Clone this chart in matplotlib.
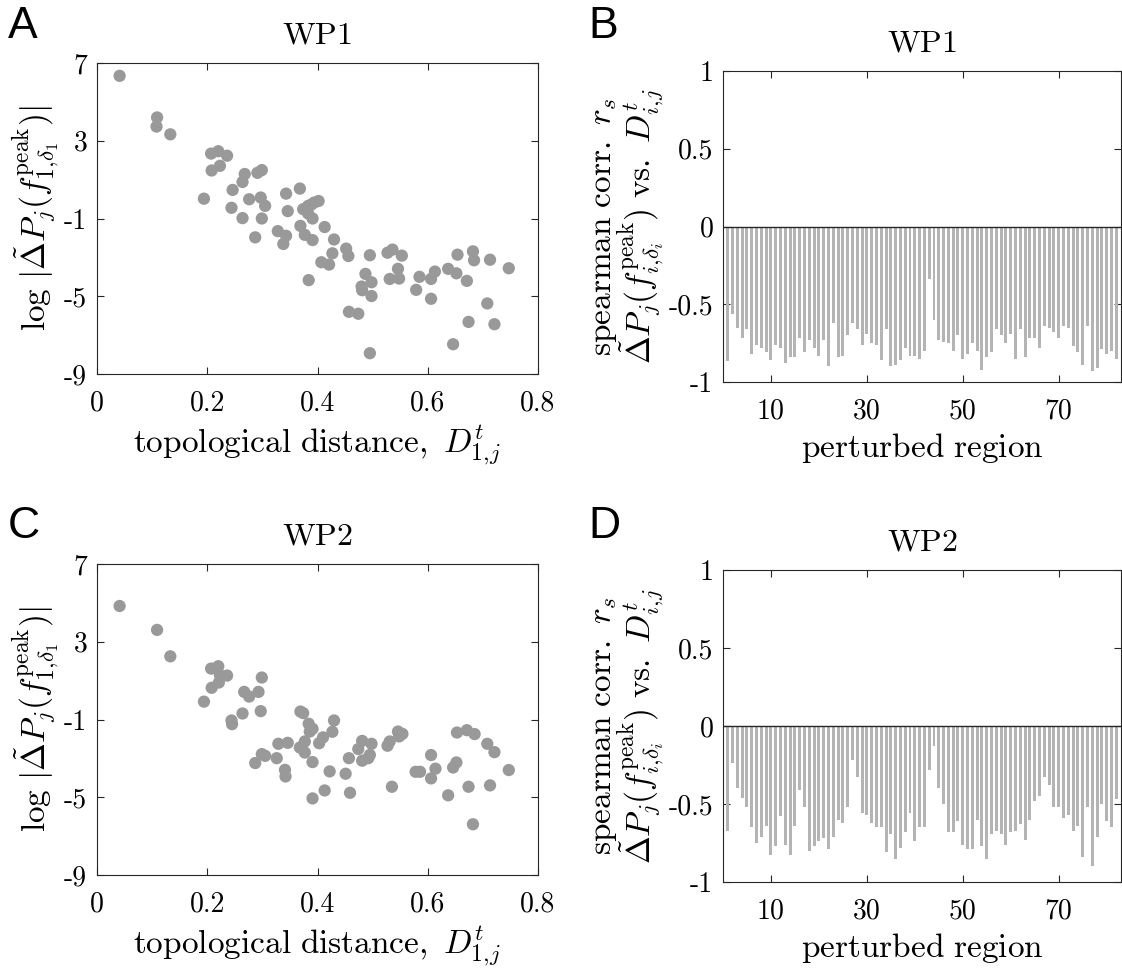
import numpy as np
import matplotlib
matplotlib.use("Agg")
import matplotlib.pyplot as plt

plt.rcParams['mathtext.fontset'] = 'cm'
plt.rcParams['axes.unicode_minus'] = False

# ---------------- data ----------------
wp1_dist = [0.041, 0.109, 0.108, 0.133, 0.207, 0.220, 0.236, 0.208, 0.223, 0.194,
            0.246, 0.268, 0.264, 0.244, 0.276, 0.264, 0.291, 0.299, 0.297, 0.305,
            0.299, 0.287, 0.328, 0.343, 0.338, 0.343, 0.346, 0.368, 0.374, 0.383,
            0.389, 0.402, 0.391, 0.369, 0.377, 0.391, 0.413, 0.430, 0.427, 0.407,
            0.421, 0.384, 0.452, 0.456, 0.457, 0.474, 0.495, 0.487, 0.498, 0.480,
            0.481, 0.498, 0.495, 0.527, 0.536, 0.553, 0.546, 0.531, 0.548, 0.585,
            0.579, 0.606, 0.613, 0.606, 0.637, 0.652, 0.654, 0.671, 0.682, 0.684,
            0.713, 0.747, 0.708, 0.674, 0.721, 0.646, 0.383, 0.394]
wp1_logdp = [6.34, 4.20, 3.73, 3.33, 2.34, 2.46, 2.23, 1.47, 1.71, 0.02,
             0.47, 1.29, 0.88, -0.45, -0.01, -0.98, 1.35, 1.49, 0.08, -0.35,
             -1.00, -1.97, -1.65, -1.89, -2.31, 0.28, -0.62, 0.54, -0.52, -0.74,
             -0.28, -0.10, -1.00, -1.38, -1.84, -2.11, -1.44, -2.08, -2.79, -3.25,
             -3.37, -4.17, -2.55, -2.93, -5.80, -5.90, -2.89, -3.85, -4.28, -4.50,
             -4.69, -4.99, -7.93, -2.76, -2.60, -2.91, -3.59, -4.11, -4.09, -4.00,
             -4.67, -4.11, -3.73, -5.13, -3.59, -3.82, -2.86, -4.21, -2.69, -3.15,
             -3.12, -3.56, -5.37, -6.32, -6.44, -7.47, -0.35, -0.18]

wp2_dist = [0.041, 0.109, 0.133, 0.207, 0.220, 0.223, 0.236, 0.221, 0.208, 0.194,
            0.267, 0.276, 0.293, 0.299, 0.297, 0.264, 0.244, 0.245, 0.299, 0.305,
            0.287, 0.326, 0.329, 0.346, 0.341, 0.342, 0.369, 0.374, 0.384, 0.391,
            0.386, 0.377, 0.368, 0.377, 0.403, 0.410, 0.427, 0.430, 0.391, 0.422,
            0.413, 0.391, 0.451, 0.457, 0.459, 0.474, 0.481, 0.498, 0.495, 0.481,
            0.492, 0.527, 0.531, 0.546, 0.554, 0.548, 0.535, 0.578, 0.586, 0.606,
            0.614, 0.606, 0.637, 0.646, 0.652, 0.653, 0.671, 0.685, 0.674, 0.682,
            0.708, 0.721, 0.713, 0.747]
wp2_logdp = [4.84, 3.61, 2.25, 1.62, 1.74, 1.29, 1.26, 0.90, 0.63, -0.08,
             0.42, 0.18, 0.42, 1.16, -0.57, -0.69, -1.05, -1.24, -2.78, -2.87,
             -3.24, -2.99, -2.25, -2.20, -3.59, -3.93, -0.59, -0.67, -1.22, -1.48,
             -1.62, -2.13, -2.44, -2.70, -2.22, -1.92, -1.63, -1.05, -3.19, -3.67,
             -4.65, -5.06, -3.79, -2.99, -4.77, -2.52, -2.10, -2.25, -2.82, -3.12,
             -2.99, -2.35, -2.13, -1.62, -1.74, -1.87, -4.46, -3.69, -3.69, -2.83,
             -3.53, -4.03, -4.90, -3.47, -3.21, -1.67, -1.55, -1.75, -4.46, -6.39,
             -2.25, -2.68, -4.39, -3.60]

wp1_rs = [-0.865, -0.56, -0.65, -0.72, -0.66, -0.82, -0.76, -0.78, -0.81, -0.86,
          -0.76, -0.78, -0.88, -0.84, -0.84, -0.72, -0.81, -0.73, -0.78, -0.83,
          -0.73, -0.90, -0.62, -0.84, -0.83, -0.70, -0.62, -0.66, -0.76, -0.69,
          -0.75, -0.76, -0.86, -0.66, -0.90, -0.89, -0.86, -0.78, -0.83, -0.83,
          -0.85, -0.80, -0.34, -0.60, -0.73, -0.74, -0.75, -0.80, -0.70, -0.85,
          -0.82, -0.75, -0.80, -0.92, -0.84, -0.81, -0.66, -0.70, -0.75, -0.69,
          -0.85, -0.66, -0.84, -0.72, -0.72, -0.78, -0.64, -0.65, -0.68, -0.72,
          -0.64, -0.65, -0.77, -0.81, -0.89, -0.64, -0.93, -0.91, -0.79, -0.82,
          -0.80, -0.85]

wp2_rs = [-0.67, -0.24, -0.40, -0.46, -0.52, -0.65, -0.75, -0.71, -0.64, -0.83,
          -0.77, -0.58, -0.76, -0.83, -0.64, -0.41, -0.52, -0.80, -0.77, -0.74,
          -0.72, -0.79, -0.71, -0.60, -0.62, -0.52, -0.22, -0.33, -0.56, -0.57,
          -0.62, -0.65, -0.65, -0.81, -0.69, -0.85, -0.78, -0.68, -0.56, -0.74,
          -0.65, -0.65, -0.28, -0.13, -0.40, -0.50, -0.68, -0.68, -0.61, -0.76,
          -0.79, -0.79, -0.60, -0.77, -0.85, -0.69, -0.67, -0.69, -0.76, -0.68,
          -0.67, -0.63, -0.73, -0.60, -0.48, -0.45, -0.33, -0.38, -0.52, -0.52,
          -0.59, -0.57, -0.67, -0.64, -0.84, -0.52, -0.90, -0.71, -0.50, -0.61,
          -0.65, -0.47]

scatter_xticks = [0, 0.2, 0.4, 0.6, 0.8]
scatter_xticklabels = ['0', '0.2', '0.4', '0.6', '0.8']
scatter_yticks = [7, 3, -1, -5, -9]
scatter_yticklabels = ['7', '3', '-1', '-5', '-9']
bar_xticks = [10, 30, 50, 70]
bar_xticklabels = ['10', '30', '50', '70']
bar_yticks = [1, 0.5, 0, -0.5, -1]
bar_yticklabels = ['1', '0.5', '0', '-0.5', '-1']

titles = ['WP1', 'WP1', 'WP2', 'WP2']
letters = ['A', 'B', 'C', 'D']

# ---------------- figure ----------------
W, H = 1122, 969
fig = plt.figure(figsize=(W / 100, H / 100), dpi=100)

def box(l, t, r, b):
    return [l / W, 1 - b / H, (r - l) / W, (b - t) / H]

axA = fig.add_axes(box(97, 63, 538, 374))
axB = fig.add_axes(box(723, 71, 1121, 382))
axC = fig.add_axes(box(97, 564, 538, 875))
axD = fig.add_axes(box(723, 570, 1121, 882))

AX = '#262626'
TICKFONT = dict(family='cmr10', size=20)
SC_COL = '#999999'
BAR_COL = '#b4b4b4'
LABEL_FS = 24
TITLE_FS = 23

def style(ax):
    for s in ax.spines.values():
        s.set_color(AX)
        s.set_linewidth(0.8)
    ax.tick_params(direction='in', length=5, width=0.8, color=AX,
                   top=True, right=True, labelcolor='black')

def scatter_panel(ax, x, y, title):
    ax.scatter(x, y, s=78, color=SC_COL, edgecolors='none', zorder=3)
    ax.set_xlim(0, 0.8)
    ax.set_ylim(-9, 7)
    ax.set_xticks(scatter_xticks)
    ax.set_xticklabels(scatter_xticklabels, fontdict=TICKFONT)
    ax.set_yticks(scatter_yticks)
    ax.set_yticklabels(scatter_yticklabels, fontdict=TICKFONT)
    style(ax)
    ax.tick_params(axis='x', pad=12)
    ax.tick_params(axis='y', pad=7)
    ax.set_xlabel(r'$\mathrm{topological\ distance,}\ D^t_{1,\!j}$', fontsize=LABEL_FS, labelpad=4)
    ax.set_ylabel(r'$\log\,|\tilde{\Delta}P_j(f^{\mathrm{peak}}_{1,\!\delta_1})|$', fontsize=LABEL_FS, labelpad=2)
    ax.set_title(r'$\mathrm{%s}$' % title, fontsize=TITLE_FS, pad=14)

def bar_panel(ax, vals, title):
    n = len(vals)
    idx = np.arange(1, n + 1)
    ax.bar(idx, vals, width=0.62, color=BAR_COL, edgecolor='none', zorder=2)
    ax.axhline(0, color=AX, lw=1.0, zorder=3)
    ax.set_xlim(0, n + 1)
    ax.set_ylim(-1, 1)
    ax.set_xticks(bar_xticks)
    ax.set_xticklabels(bar_xticklabels, fontdict=TICKFONT)
    ax.set_yticks(bar_yticks)
    ax.set_yticklabels(bar_yticklabels, fontdict=TICKFONT)
    style(ax)
    ax.tick_params(axis='x', pad=12)
    ax.tick_params(axis='y', pad=7)
    ax.set_xlabel(r'$\mathrm{perturbed\ region}$', fontsize=LABEL_FS, labelpad=4)
    ax.set_ylabel(r'$\mathrm{spearman\ corr.}\ r_s$' + '\n' +
                  r'$\tilde{\Delta}P_j(f^{\mathrm{peak}}_{i,\!\delta_i})\ \mathrm{vs.}\ D^t_{i,\!j}$',
                  fontsize=LABEL_FS, labelpad=2, linespacing=0.9)
    ax.set_title(r'$\mathrm{%s}$' % title, fontsize=TITLE_FS, pad=14)

scatter_panel(axA, wp1_dist, wp1_logdp, titles[0])
bar_panel(axB, wp1_rs, titles[1])
scatter_panel(axC, wp2_dist, wp2_logdp, titles[2])
bar_panel(axD, wp2_rs, titles[3])

letter_pos = [(8, 38), (588, 38), (8, 538), (588, 538)]
for L, (px, py) in zip(letters, letter_pos):
    fig.text(px / W, 1 - py / H, L, fontsize=32, family='Liberation Sans',
             ha='left', va='baseline')

fig.savefig('out.png', dpi=100)
